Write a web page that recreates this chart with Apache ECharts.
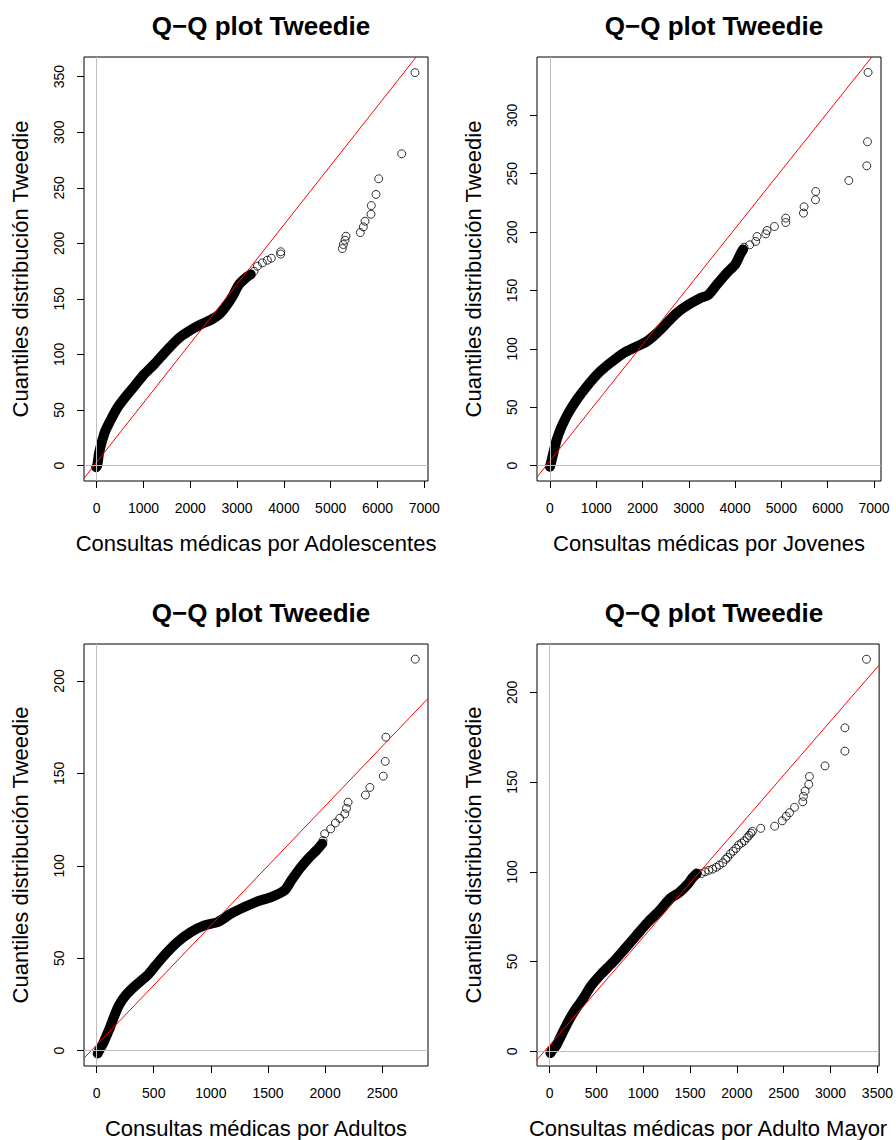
<!DOCTYPE html>
<html>
<head>
<meta charset="utf-8">
<title>Q-Q plot Tweedie</title>
<script src="https://cdn.jsdelivr.net/npm/echarts@6/dist/echarts.min.js"></script>
<style>
  html, body { margin: 0; padding: 0; background: #fff; }
  #chart { width: 896px; height: 1140px; }
</style>
</head>
<body>
<div id="chart"></div>
<script>
// Adolescentes: dense band of points (read along its middle), then the sparse circles
var adolBand = [[-10, -1.5], [14, 0.6], [50, 11], [121, 23], [192, 32], [299, 41], [442, 52], [620, 62],
  [798, 71], [1011, 82], [1225, 91], [1439, 101], [1617, 109], [1795, 116], [2009, 122], [2222, 127],
  [2436, 131], [2614, 136], [2756, 143], [2899, 152], [3041, 163], [3219, 170], [3291, 172]];
var adolTail = [[3291, 171.9], [3362, 174.9], [3433, 179.4], [3540, 182.4], [3647, 184.8], [3732, 186.6],
  [3932, 190.3], [3932, 192.4], [5248, 195.3], [5270, 198.9], [5306, 202.8], [5327, 206.4], [5633, 209.7],
  [5697, 214.8], [5733, 219.9], [5861, 226.2], [5868, 234], [5968, 244], [6026, 258.1], [6517, 280.6],
  [6801, 353.6]];
var adolRed = [[-271, -11.4], [6829, 367.8]];
var adolXTicks = [0, 1000, 2000, 3000, 4000, 5000, 6000, 7000];
var adolYTicks = [0, 50, 100, 150, 200, 250, 300, 350];

// Jovenes
var joveBand = [[0, -1], [20, 2], [72, 10.6], [144, 22], [252, 33.4], [396, 44.9], [576, 56.3], [793, 67.7],
  [1045, 79.1], [1297, 87.7], [1585, 96.3], [1873, 102], [2089, 106.3], [2305, 113.4], [2522, 122],
  [2738, 130.6], [2954, 136.9], [3242, 143.4], [3422, 146.3], [3602, 154.9], [3818, 164.9], [3998, 172],
  [4107, 180.6], [4170, 185]];
var joveTail = [[4193, 187.1], [4316, 189.1], [4446, 192], [4474, 196.2], [4662, 198.5], [4690, 201.4],
  [4850, 204.8], [5094, 208.2], [5094, 212], [5477, 216.3], [5490, 221.7], [5736, 227.7], [5742, 234.8],
  [6456, 244.2], [6845, 256.8], [6860, 277.4], [6873, 336.8]];
var joveRed = [[-288, -10.3], [6950, 349.8]];
var joveXTicks = [0, 1000, 2000, 3000, 4000, 5000, 6000, 7000];
var joveYTicks = [0, 50, 100, 150, 200, 250, 300];

// Adultos
var adulBand = [[10, -1.5], [20, -0.2], [64, 4.9], [108, 11.2], [152, 18.3], [196, 24.6], [255, 30],
  [343, 35.4], [445, 40.8], [518, 46.2], [606, 52.5], [708, 58.8], [826, 64.2], [943, 67.8], [1060, 69.6],
  [1177, 74.1], [1294, 77.7], [1411, 80.8], [1528, 83.1], [1645, 86.7], [1704, 92.1], [1777, 98.4],
  [1850, 103.8], [1923, 108.3], [1975, 112]];
var adulTail = [[1982, 113.7], [1996, 117.3], [2049, 120], [2090, 123.2], [2128, 125.7], [2172, 128.1],
  [2187, 131.1], [2201, 134.4], [2353, 138.3], [2392, 142.4], [2509, 148.5], [2526, 156.5], [2532, 169.6],
  [2789, 211.8]];
var adulRed = [[-111, -4.1], [2900, 190.5]];
var adulXTicks = [0, 500, 1000, 1500, 2000, 2500];
var adulYTicks = [0, 50, 100, 150, 200];

// Adulto Mayor
var mayorBand = [[10, -1], [18, -0.2], [71, 3.2], [124, 8.7], [195, 16.1], [267, 22.6], [355, 29.1],
  [444, 36.5], [551, 43], [675, 49.5], [800, 56.9], [924, 64.4], [1048, 71.8], [1173, 78.3], [1279, 84.8],
  [1386, 88.5], [1475, 93.1], [1528, 96.8], [1570, 99]];
var mayorTail = [[1620, 99], [1660, 100], [1700, 100.8], [1740, 101.5], [1780, 102.5], [1812, 103.7],
  [1850, 105], [1880, 107], [1901, 108], [1930, 110], [1960, 111.5], [1990, 113], [2020, 115], [2050, 116],
  [2079, 117.2], [2110, 119], [2130, 120.3], [2150, 121.5], [2165, 122.5], [2254, 124.2], [2403, 125.4],
  [2484, 128.4], [2526, 130.9], [2562, 132.9], [2615, 135.9], [2703, 139], [2710, 142], [2728, 145],
  [2767, 148.7], [2774, 153.1], [2941, 159], [3153, 167.2], [3153, 180.2], [3383, 218.4]];
var mayorRed = [[-142, -5.2], [3517, 215.1]];
var mayorXTicks = [0, 500, 1000, 1500, 2000, 2500, 3000, 3500];
var mayorYTicks = [0, 50, 100, 150, 200];

var FONT = "'Liberation Sans', Arial, Helvetica, sans-serif";

var panels = [
  { band: adolBand, tail: adolTail, red: adolRed, xTicks: adolXTicks, yTicks: adolYTicks,
    xlab: 'Consultas médicas por Adolescentes', xMin: -271, xMax: 7079, yMin: -13.9, yMax: 367.7,
    left: 84, top: 57, width: 344, height: 424 },
  { band: joveBand, tail: joveTail, red: joveRed, xTicks: joveXTicks, yTicks: joveYTicks,
    xlab: 'Consultas médicas por Jovenes', xMin: -280, xMax: 7152, yMin: -13.2, yMax: 350,
    left: 537, top: 57, width: 344, height: 424 },
  { band: adulBand, tail: adulTail, red: adulRed, xTicks: adulXTicks, yTicks: adulYTicks,
    xlab: 'Consultas médicas por Adultos', xMin: -110.5, xMax: 2900.5, yMin: -8.3, yMax: 220,
    left: 84, top: 644, width: 344, height: 424 },
  { band: mayorBand, tail: mayorTail, red: mayorRed, xTicks: mayorXTicks, yTicks: mayorYTicks,
    xlab: 'Consultas médicas por Adulto Mayor', xMin: -134, xMax: 3518, yMin: -8.2, yMax: 226.9,
    left: 537, top: 644, width: 344, height: 423 }
];

function plain(v) { return String(v); }

var grids = [], xAxes = [], yAxes = [], series = [], titles = [];

panels.forEach(function (p, i) {
  grids.push({
    left: p.left, top: p.top, width: p.width, height: p.height,
    show: true, borderColor: '#000', borderWidth: 1, backgroundColor: 'transparent'
  });
  titles.push({
    text: 'Q\u2212Q plot Tweedie',
    left: p.left + p.width / 2, top: p.top - 49, textAlign: 'center',
    textStyle: { fontSize: 26, fontWeight: 'bold', color: '#000', fontFamily: FONT }
  });
  xAxes.push({
    gridIndex: i, type: 'value', min: p.xMin, max: p.xMax,
    axisLine: { show: false, onZero: false },
    splitLine: { show: false },
    axisTick: { show: true, inside: false, length: 7, customValues: p.xTicks,
      lineStyle: { color: '#000', width: 1 } },
    axisLabel: { customValues: p.xTicks, formatter: plain, margin: 20, fontSize: 14,
      color: '#000', fontFamily: FONT },
    name: p.xlab, nameLocation: 'middle', nameGap: 51,
    nameTextStyle: { fontSize: 22, color: '#000', fontFamily: FONT }
  });
  yAxes.push({
    gridIndex: i, type: 'value', min: p.yMin, max: p.yMax,
    axisLine: { show: false, onZero: false },
    splitLine: { show: false },
    axisTick: { show: true, inside: false, length: 7, customValues: p.yTicks,
      lineStyle: { color: '#000', width: 1 } },
    axisLabel: { customValues: p.yTicks, formatter: plain, rotate: 90, margin: 18, fontSize: 14,
      color: '#000', fontFamily: FONT },
    name: 'Cuantiles distribución Tweedie', nameLocation: 'middle', nameGap: 53,
    nameTextStyle: { fontSize: 22, color: '#000', fontFamily: FONT }
  });

  // gray reference lines at x = 0 and y = 0
  series.push({
    type: 'line', xAxisIndex: i, yAxisIndex: i, data: [], z: 1,
    markLine: {
      silent: true, symbol: ['none', 'none'], label: { show: false },
      lineStyle: { color: '#BEBEBE', width: 1, type: 'solid' },
      emphasis: { disabled: true },
      data: [{ xAxis: 0 }, { yAxis: 0 }]
    }
  });
  // dense part of the sample, drawn as a thick band
  series.push({
    type: 'line', xAxisIndex: i, yAxisIndex: i, data: p.band, z: 2,
    symbol: 'none', showSymbol: false, clip: true, smooth: 0.25,
    lineStyle: { color: '#000', width: 10, cap: 'round', join: 'round' }
  });
  // sparse points as open circles
  series.push({
    type: 'scatter', xAxisIndex: i, yAxisIndex: i, data: p.tail, z: 3,
    symbol: 'circle', symbolSize: 8,
    itemStyle: { color: 'rgba(0,0,0,0)', borderColor: '#000', borderWidth: 1 }
  });
  // qqline
  series.push({
    type: 'line', xAxisIndex: i, yAxisIndex: i, data: p.red, z: 4,
    symbol: 'none', clip: true,
    lineStyle: { color: '#FF0000', width: 1 }
  });
});

var chart = echarts.init(document.getElementById('chart'), null, { renderer: 'svg' });
chart.setOption({
  animation: false,
  backgroundColor: '#fff',
  title: titles,
  grid: grids,
  xAxis: xAxes,
  yAxis: yAxes,
  series: series
});
</script>
</body>
</html>
